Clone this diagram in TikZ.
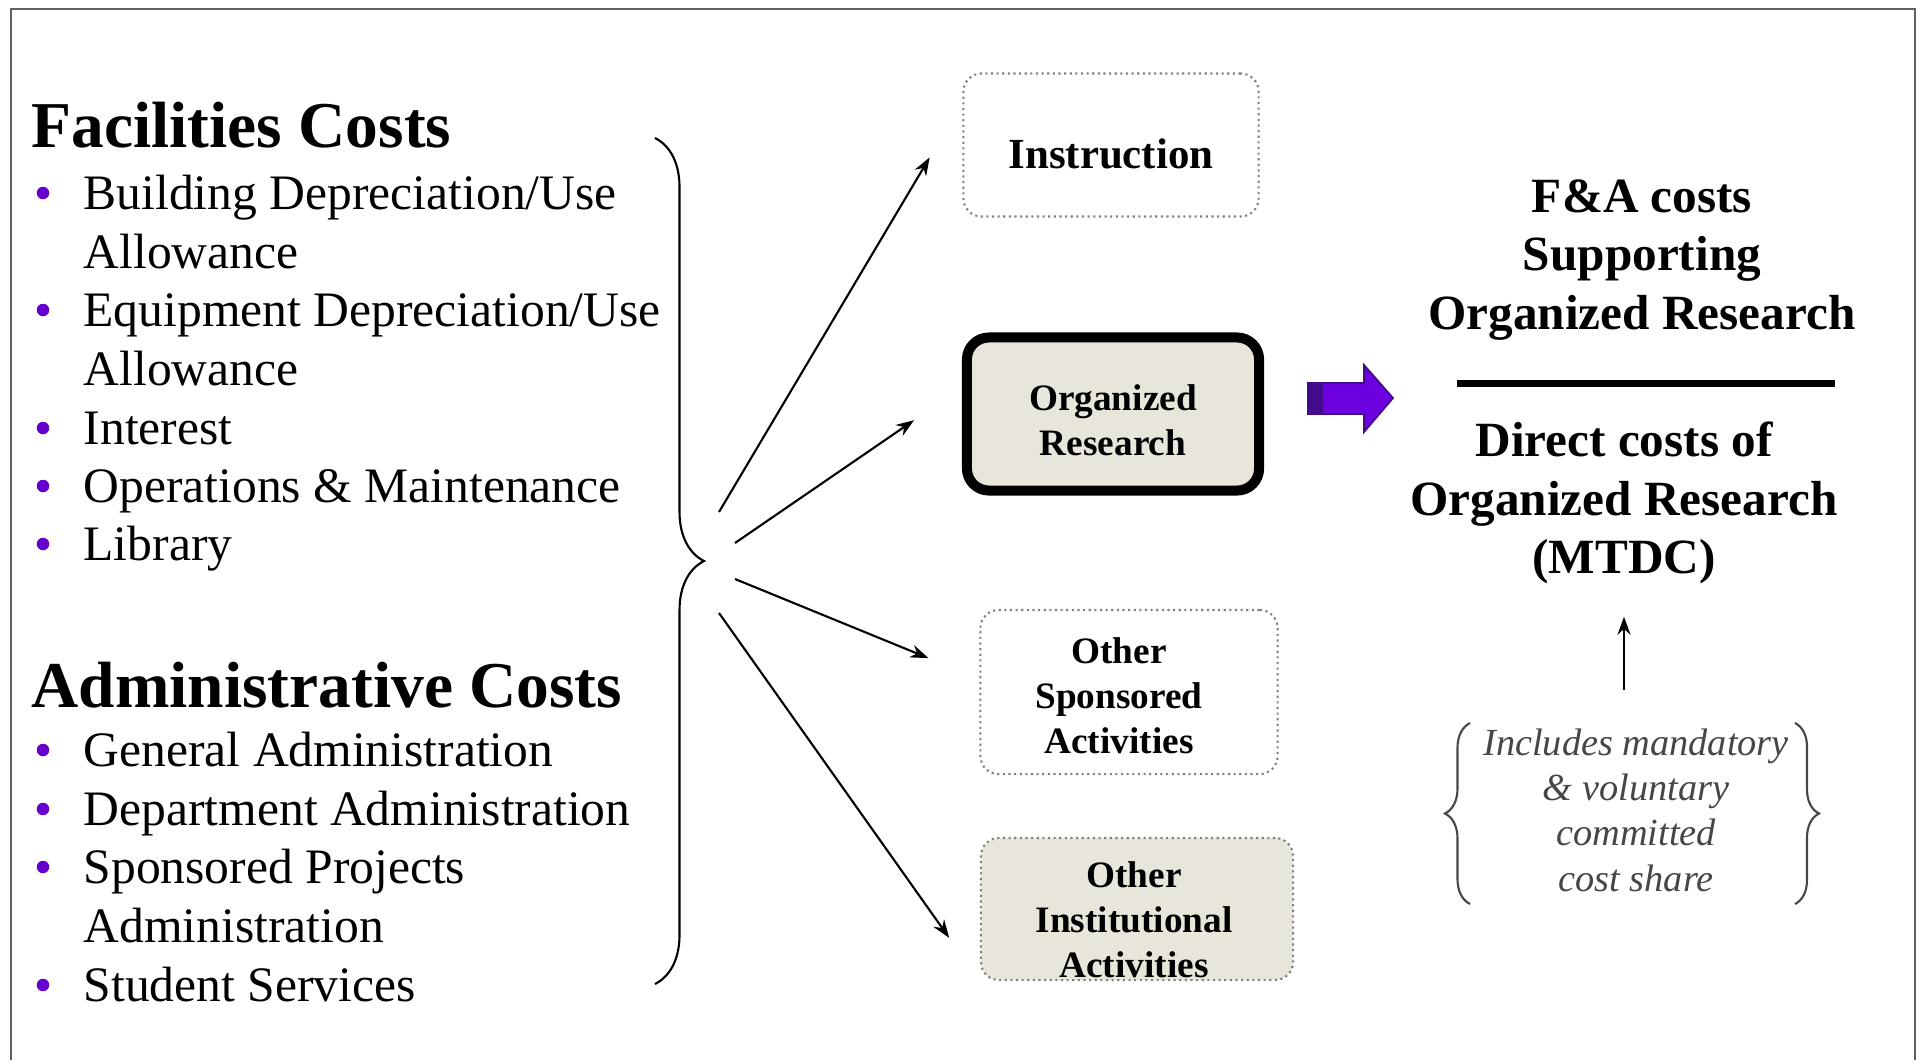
\documentclass[tikz,border=0pt]{standalone}
\usepackage{fontspec}
\setmainfont{Liberation Serif}
\usetikzlibrary{decorations.pathreplacing,arrows.meta}
\definecolor{boxfill}{RGB}{232,229,218}
\definecolor{bulletpurple}{RGB}{102,0,204}
\definecolor{arrowpurple}{RGB}{108,0,222}
\definecolor{arrowdark}{RGB}{68,10,140}
\definecolor{framegray}{RGB}{95,95,95}
\definecolor{notegray}{RGB}{70,70,70}
\tikzset{>={Stealth[length=0.18cm,width=0.13cm]}}
\tikzset{
  item/.style={anchor=base west, inner sep=0pt, font=\fontsize{14.1}{17}\selectfont},
  heading/.style={anchor=base west, inner sep=0pt, font=\fontsize{18.6}{22}\selectfont\bfseries},
  bulletdot/.style={circle, fill=bulletpurple, inner sep=0pt, minimum size=0.125cm},
  actbox/.style={draw=gray, densely dotted, line width=0.6pt, rounded corners=0.18cm, align=center},
  boxtext/.style={align=center, font=\fontsize{10.6}{12.8}\selectfont\bfseries},
  bigtext/.style={align=center, font=\fontsize{14}{16.7}\selectfont\bfseries},
  notetext/.style={align=center, text=notegray, font=\fontsize{10.9}{12.9}\selectfont\itshape},
  fan/.style={->, line width=0.6pt},
  bracestyle/.style={decorate, line width=0.6pt}
}

\begin{document}
\begin{tikzpicture}[x=0.01cm, y=-0.01cm]
  \useasboundingbox (0,0) rectangle (1921,1060);
  \draw[framegray, line width=0.7pt] (11,1060) -- (11,9) -- (1915,9) -- (1915,1060);

  \node[heading] (fac) at (31,147) {Facilities Costs};
  \node[bulletdot] (b1) at (43,193) {};
  \node[item] (bld) at (83,209) {Building Depreciation/Use};
  \node[item] (bld2) at (83,268) {Allowance};
  \node[bulletdot] (b2) at (43,310) {};
  \node[item] (equip) at (83,326) {Equipment Depreciation/Use};
  \node[item] (equip2) at (83,385) {Allowance};
  \node[bulletdot] (b3) at (43,428) {};
  \node[item] (intr) at (83,444) {Interest};
  \node[bulletdot] (b4) at (43,486) {};
  \node[item] (ops) at (83,502) {Operations \& Maintenance};
  \node[bulletdot] (b5) at (43,544) {};
  \node[item] (lib) at (83,560) {Library};

  \node[heading] (adm) at (31,707) {Administrative Costs};
  \node[bulletdot] (b6) at (43,750) {};
  \node[item] (gen) at (83,766) {General Administration};
  \node[bulletdot] (b7) at (43,809) {};
  \node[item] (dept) at (83,825) {Department Administration};
  \node[bulletdot] (b8) at (43,867) {};
  \node[item] (spons) at (83,883) {Sponsored Projects};
  \node[item] (spons2) at (83,942) {Administration};
  \node[bulletdot] (b9) at (43,985) {};
  \node[item] (stud) at (83,1001) {Student Services};

  \draw[bracestyle, decoration={brace, amplitude=0.49cm}] (655,138) -- (655,984);

  \node[actbox, minimum width=2.95cm, minimum height=1.43cm,
    label={[name=instrtext, yshift=-0.09cm, font=\fontsize{12.2}{14}\selectfont\bfseries]center:Instruction}] (instr) at (1111,145) {};
  \node[actbox, draw=black, solid, line width=0.1cm, rounded corners=0.22cm, fill=boxfill, minimum width=2.92cm, minimum height=1.53cm,
    label={[boxtext, name=orgtext, yshift=-0.06cm]center:Organized\\Research}] (orgres) at (1113,414) {};
  \node[actbox, minimum width=2.97cm, minimum height=1.64cm,
    label={[boxtext, name=osatext, xshift=-0.1cm, yshift=-0.04cm]center:Other\\Sponsored\\Activities}] (osa) at (1129,692) {};
  \node[actbox, fill=boxfill, minimum width=3.12cm, minimum height=1.42cm,
    label={[boxtext, name=oiatext, xshift=-0.03cm, yshift=-0.11cm]center:Other\\Institutional\\Activities}] (oia) at (1137,909) {};

  \coordinate (fan1) at (719,512);
  \coordinate (fan2) at (735,543);
  \coordinate (fan3) at (735,579);
  \coordinate (fan4) at (719,613);
  \draw[fan, shorten >=0.64cm] (fan1) -- (instr.164);
  \draw[fan, shorten >=0.58cm] (fan2) -- (orgres.170);
  \draw[fan, shorten >=0.55cm] (fan3) -- (osa.175);
  \draw[fan, shorten >=0.53cm] (fan4) -- (oia.south west);

  \filldraw[fill=arrowpurple, draw=arrowdark, line width=0.5pt] (1308,383) -- (1364,383) -- (1364,365) -- (1393,398) -- (1364,432) -- (1364,414) -- (1308,414) -- cycle;
  \fill[arrowdark] (1308,383) rectangle (1323,414);

  \node[bigtext] (fatext) at (1642,260) {F\&A costs\\Supporting\\Organized Research};
  \draw[line width=0.07cm] (1457,383) -- (1835,383);
  \node[bigtext] (mtdc) at (1624,503) {Direct costs of\\Organized Research\\(MTDC)};

  \node[notetext] (share) at (1636,810) {Includes mandatory\\\& voluntary\\committed\\cost share};
  \draw[bracestyle, notegray, decoration={brace, amplitude=0.25cm}] (1470,904) -- (1470,723);
  \draw[bracestyle, notegray, decoration={brace, amplitude=0.24cm}] (1795,723) -- (1795,904);
  \draw[fan, shorten <=0.26cm, shorten >=0.2cm] (share.north -| mtdc.south) -- (mtdc.south);
\end{tikzpicture}
\end{document}
